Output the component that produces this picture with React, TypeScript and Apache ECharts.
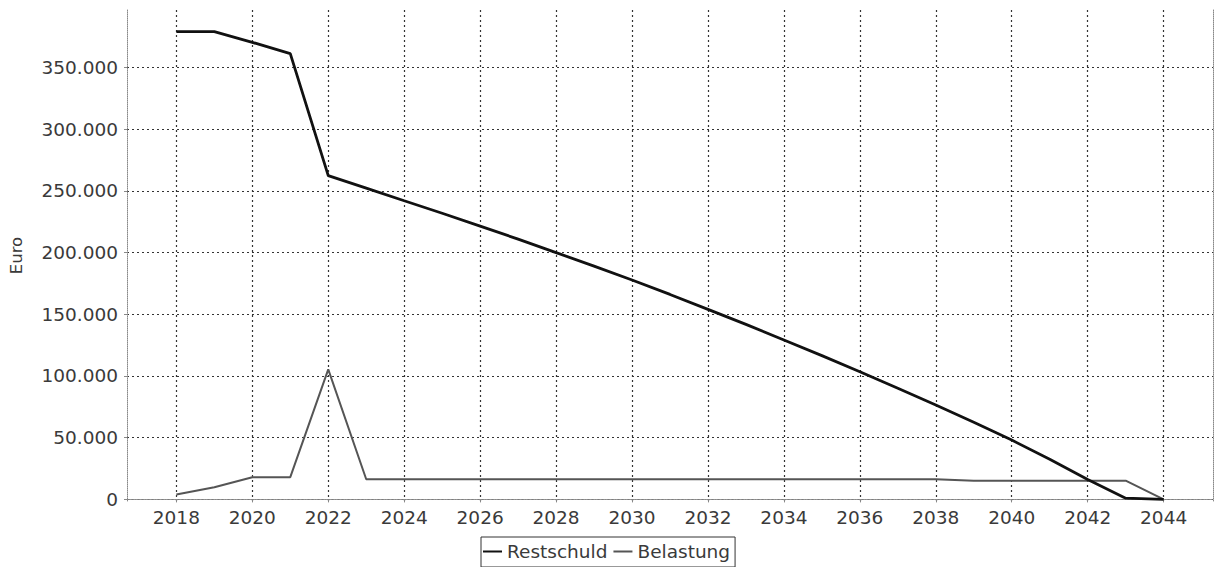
import React, { useEffect, useRef } from "react";
import * as echarts from "echarts";

const years = [2018, 2019, 2020, 2021, 2022, 2023, 2024, 2025, 2026, 2027, 2028, 2029, 2030, 2031, 2032, 2033, 2034, 2035, 2036, 2037, 2038, 2039, 2040, 2041, 2042, 2043, 2044];
const restschuld = [379000, 379000, 370400, 361200, 262400, 252300, 242000, 231900, 221500, 210900, 200000, 189000, 177800, 166100, 154000, 141800, 129200, 116500, 103500, 90000, 76500, 62500, 48100, 32500, 16200, 1000, 0];
const belastung = [4000, 9800, 18000, 18000, 105400, 16300, 16300, 16300, 16300, 16300, 16300, 16300, 16300, 16300, 16300, 16300, 16300, 16300, 16300, 16300, 16300, 15200, 15200, 15200, 15200, 15200, 0];
const seriesNames = ["Restschuld", "Belastung"];
const xRange = [2016.7, 2045.3];
const yRange = [-1300, 396600];

const FONT = "DejaVu Sans";
const TXT = "#3a3a3a";

function fmtDE(v: number): string {
  return String(Math.round(v)).replace(/\B(?=(\d{3})+(?!\d))/g, ".");
}

export default function App() {
  const ref = useRef<HTMLDivElement>(null);
  useEffect(() => {
    if (!ref.current) return;
    const chart = echarts.init(ref.current, null, { renderer: "svg" });
    const dotted = { type: [2, 3] as any };
    chart.setOption({
      animation: false,
      backgroundColor: "#ffffff",
      textStyle: { fontFamily: FONT },
      grid: { left: 127, right: 2, top: 10, bottom: 66, containLabel: false, outerBoundsMode: "none" },
      legend: {
        left: 481,
        top: 537,
        orient: "horizontal",
        padding: [5, 5, 6, 2],
        itemGap: 6,
        itemWidth: 19,
        itemHeight: 2,
        borderColor: "#333",
        borderWidth: 1,
        borderRadius: 0,
        textStyle: { fontFamily: FONT, fontSize: 18.5, color: TXT },
        data: [
          { name: seriesNames[0], icon: "rect", itemStyle: { color: "#111" } },
          { name: seriesNames[1], icon: "rect", itemStyle: { color: "#555" } },
        ],
      },
      xAxis: [
        {
          type: "value",
          min: xRange[0],
          max: xRange[1],
          minInterval: 2,
          maxInterval: 2,
          splitNumber: 14,
          axisLine: { show: true, lineStyle: { color: "#888", width: 1, type: [1, 1] } },
          axisTick: { show: true, length: 3, lineStyle: { color: "#888" } },
          axisLabel: {
            margin: 7,
            fontFamily: FONT,
            fontSize: 18.5,
            color: TXT,
            showMinLabel: false,
            showMaxLabel: false,
            formatter: (v: number) => (Math.abs(v - Math.round(v)) < 1e-6 && Math.round(v) % 2 === 0 ? String(Math.round(v)) : ""),
          },
          splitLine: { show: true, showMinLine: false, showMaxLine: false, lineStyle: { color: "#333", width: 1.2, ...dotted } },
        },
        {
          type: "value",
          position: "top",
          min: xRange[0],
          max: xRange[1],
          axisLine: { show: true, lineStyle: { color: "#888", width: 1, type: [1, 1] } },
          axisTick: { show: false },
          axisLabel: { show: false },
          splitLine: { show: false },
        },
      ],
      yAxis: [
        {
          type: "value",
          min: yRange[0],
          max: yRange[1],
          minInterval: 50000,
          maxInterval: 50000,
          splitNumber: 8,
          name: "Euro",
          nameLocation: "middle",
          nameGap: 102,
          nameRotate: 90,
          nameTextStyle: { fontFamily: FONT, fontSize: 16.5, color: TXT },
          axisLine: { show: true, lineStyle: { color: "#888", width: 1, type: [1, 1] } },
          axisTick: { show: true, length: 3, lineStyle: { color: "#888" } },
          axisLabel: {
            margin: 9,
            fontFamily: FONT,
            fontSize: 18.5,
            color: TXT,
            showMinLabel: false,
            showMaxLabel: false,
            formatter: (v: number) => (v >= 0 && Math.round(v) % 50000 === 0 ? fmtDE(v) : ""),
          },
          splitLine: { show: true, showMinLine: false, showMaxLine: false, lineStyle: { color: "#333", width: 1.2, ...dotted } },
        },
        {
          type: "value",
          position: "right",
          min: yRange[0],
          max: yRange[1],
          axisLine: { show: true, lineStyle: { color: "#888", width: 1, type: [1, 1] } },
          axisTick: { show: false },
          axisLabel: { show: false },
          splitLine: { show: false },
        },
      ],
      series: [
        {
          name: seriesNames[0],
          type: "line",
          xAxisIndex: 0,
          yAxisIndex: 0,
          showSymbol: false,
          symbol: "none",
          data: years.map((y, i) => [y, restschuld[i]]),
          lineStyle: { color: "#111", width: 2.8 },
          itemStyle: { color: "#111" },
          z: 3,
        },
        {
          name: seriesNames[1],
          type: "line",
          xAxisIndex: 0,
          yAxisIndex: 0,
          showSymbol: false,
          symbol: "none",
          data: years.map((y, i) => [y, belastung[i]]),
          lineStyle: { color: "#555", width: 2 },
          itemStyle: { color: "#555" },
          z: 2,
        },
      ],
    });
    return () => chart.dispose();
  }, []);
  return (
    <div
      ref={ref}
      style={{ position: "absolute", left: 0, top: 0, width: 1215, height: 567, background: "#fff" }}
    />
  );
}
